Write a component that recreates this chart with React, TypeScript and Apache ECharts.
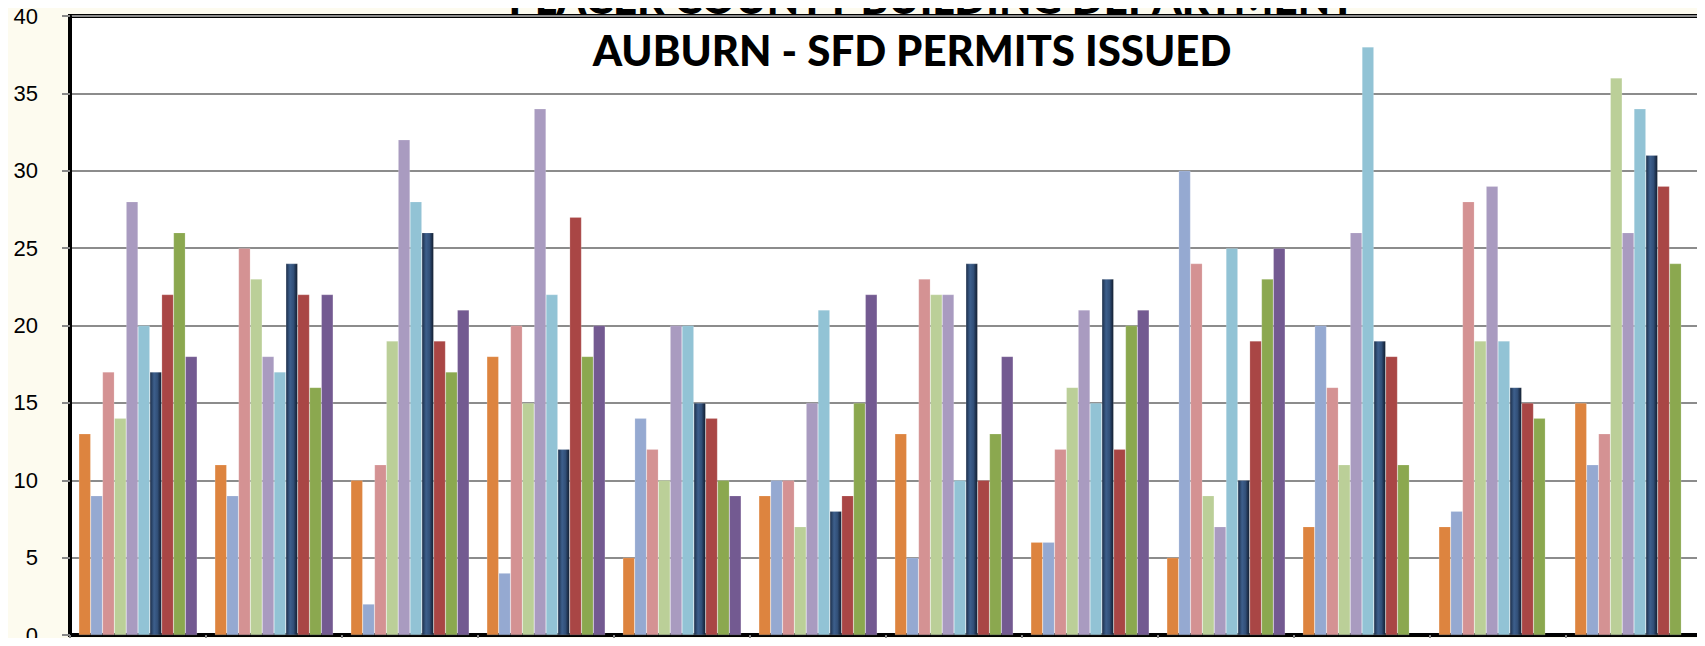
import React, { useEffect, useRef } from "react";
import * as echarts from "echarts";

const months = ["Jan", "Feb", "Mar", "Apr", "May", "Jun", "Jul", "Aug", "Sep", "Oct", "Nov", "Dec"];
const seriesNames = ["2003", "2004", "2005", "2006", "2007", "2008", "2009", "2010", "2011", "2012"];

const s1 = [13, 11, 10, 18, 5, 9, 13, 6, 5, 7, 7, 15];
const s2 = [9, 9, 2, 4, 14, 10, 5, 6, 30, 20, 8, 11];
const s3 = [17, 25, 11, 20, 12, 10, 23, 12, 24, 16, 28, 13];
const s4 = [14, 23, 19, 15, 10, 7, 22, 16, 9, 11, 19, 36];
const s5 = [28, 18, 32, 34, 20, 15, 22, 21, 7, 26, 29, 26];
const s6 = [20, 17, 28, 22, 20, 21, 10, 15, 25, 38, 19, 34];
const s7 = [17, 24, 26, 12, 15, 8, 24, 23, 10, 19, 16, 31];
const s8 = [22, 22, 19, 27, 14, 9, 10, 12, 19, 18, 15, 29];
const s9 = [26, 16, 17, 18, 10, 15, 13, 20, 23, 11, 14, 24];
const s10 = [18, 22, 21, 20, 9, 22, 18, 21, 25, null, null, null];

const yTicks = [0, 5, 10, 15, 20, 25, 30, 35, 40];

const titleMain = "PLACER COUNTY BUILDING DEPARTMENT";
const titleSub = "AUBURN - SFD PERMITS ISSUED";

const navyGradient = new echarts.graphic.LinearGradient(0, 0, 1, 0, [
  { offset: 0, color: "#1b2d48" },
  { offset: 0.35, color: "#3d5f8c" },
  { offset: 0.65, color: "#325079" },
  { offset: 1, color: "#0f1a2c" },
]);

const colors: any[] = [
  "#dd843f",
  "#95a9d1",
  "#d49293",
  "#bbcf98",
  "#a99bc0",
  "#92c3d5",
  navyGradient,
  "#a94645",
  "#8ba84f",
  "#735a91",
];

const allSeries = [s1, s2, s3, s4, s5, s6, s7, s8, s9, s10];

export default function App() {
  const ref = useRef<HTMLDivElement>(null);
  useEffect(() => {
    if (!ref.current) return;
    const chart = echarts.init(ref.current, null, { renderer: "svg" });
    const titleFont = "Lato, 'Open Sans', sans-serif";
    chart.setOption({
      animation: false,
      backgroundColor: "#fdfbef",
      grid: {
        left: 70,
        right: 3,
        top: 16,
        bottom: 8,
        show: true,
        backgroundColor: "#ffffff",
        borderColor: "#000000",
        borderWidth: 4,
        containLabel: false,
      },
      xAxis: {
        type: "category",
        data: months,
        axisLine: { show: true, lineStyle: { color: "#000", width: 3 } },
        axisTick: { show: true, length: 8, lineStyle: { color: "#888", width: 2 } },
        axisLabel: { show: false },
        splitLine: { show: false },
      },
      yAxis: {
        type: "value",
        min: yTicks[0],
        max: yTicks[yTicks.length - 1],
        interval: 5,
        axisLine: { show: true, lineStyle: { color: "#000", width: 3 } },
        axisTick: { show: true, length: 8, lineStyle: { color: "#888", width: 2 } },
        axisLabel: {
          margin: 32,
          color: "#000",
          fontSize: 22,
          fontFamily: "'Liberation Sans', Arial, sans-serif",
        },
        splitLine: { show: true, lineStyle: { color: "#8c8c8c", width: 2 } },
      },
      series: allSeries.map((d, i) => ({
        name: seriesNames[i],
        type: "bar",
        data: d,
        barGap: "0%",
        barCategoryGap: "13%",
        itemStyle: {
          color: colors[i],
          borderColor: "rgba(255,255,255,0.35)",
          borderWidth: 0.5,
        },
      })),
      graphic: [
        {
          type: "text",
          x: 932,
          y: -2,
          style: {
            text: titleMain,
            align: "center",
            verticalAlign: "middle",
            fill: "#000",
            font: `900 42px ${titleFont}`,
          },
          z: 10,
        },
        {
          type: "text",
          x: 912,
          y: 50,
          style: {
            text: titleSub,
            align: "center",
            verticalAlign: "middle",
            fill: "#000",
            font: `900 42px ${titleFont}`,
          },
          z: 10,
        },
      ],
    });
    return () => chart.dispose();
  }, []);
  return <div ref={ref} style={{ width: 1705, height: 646, margin: -8 }} />;
}
